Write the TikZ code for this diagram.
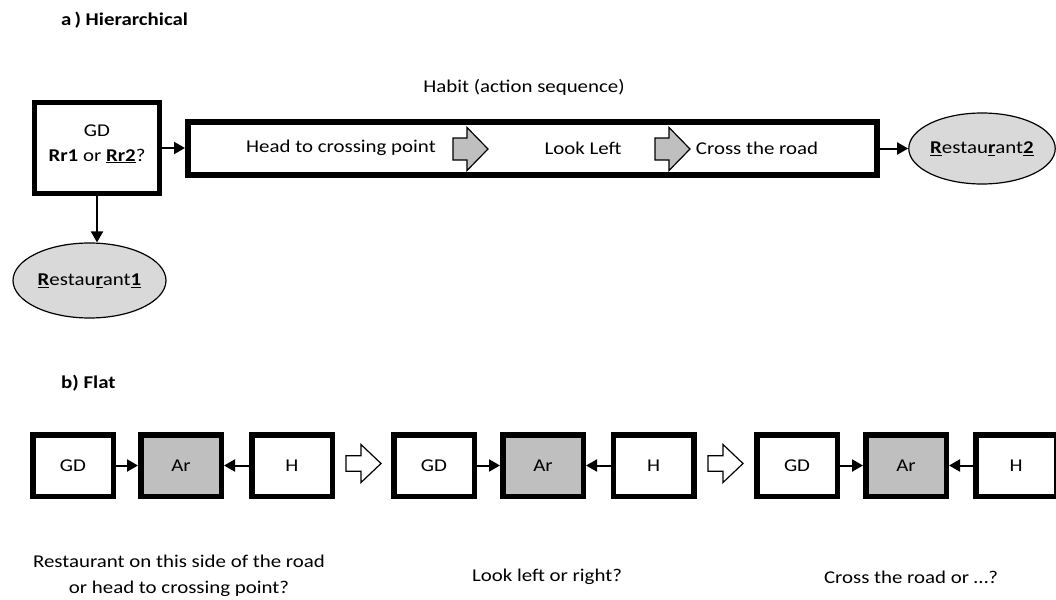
\documentclass[tikz,border=0pt]{standalone}
\usepackage{fontspec}
\setmainfont{Carlito}[FakeStretch=1.16]
\usetikzlibrary{arrows.meta,shapes.geometric}
\definecolor{arfill}{HTML}{BFBFBF}
\definecolor{goalfill}{HTML}{D9D9D9}
\tikzset{
  x=1pt, y=-1pt,
  every node/.style={font=\fontsize{18}{25}\selectfont, inner sep=0pt},
  title/.style={font=\fontsize{18}{22}\selectfont\bfseries, anchor=west},
  thickbox/.style={draw, line width=5.5pt, minimum width=80.5pt, minimum height=61.5pt},
  gdbox/.style={draw, line width=5pt, minimum width=125pt, minimum height=91pt},
  habitbox/.style={draw, line width=6pt, minimum width=689pt, minimum height=53pt},
  goal/.style={draw, ellipse, line width=1.2pt, fill=goalfill},
  conn/.style={line width=2pt, -{Triangle[length=11pt,width=12pt]}},
  blockarrow/.style={draw, line width=1.2pt, line join=miter},
  caption/.style={align=center, font=\fontsize{18}{26}\selectfont},
}
% block arrow: start x, axis y, shaft length, shaft half-height, head half-height, fill
\newcommand\blockarr[6]{%
  \draw[blockarrow, fill=#6] (#1,#2-#4) -- (#1+#3,#2-#4) -- (#1+#3,#2-#5) -- (#1+35,#2)
    -- (#1+#3,#2+#5) -- (#1+#3,#2+#4) -- (#1,#2+#4) -- cycle;}
\begin{document}
\begin{tikzpicture}
\useasboundingbox[fill=white] (0,0) rectangle (1056,599);

% ---------- a) hierarchical ----------
\node[title] (ta) at (61,20) {a\,) Hierarchical};

\node[gdbox] (gd) at (97,148) {};
\node[anchor=base] (gdl1) at (97,136) {GD};
\node[anchor=base] (gdl2) at (97,161) {\textbf{Rr1} or \textbf{\underline{Rr2}}?};
\node[habitbox] (habit) at (532.5,148.5) {};
\node (hlabel) at (524,87) {Habit (action sequence)};
\node (s1) at (341,148) {Head to crossing point};
\node (s2) at (583,148) {Look Left};
\node (s3) at (757,148) {Cross the road};
\blockarr{453}{149}{14}{11}{21.5}{arfill}
\blockarr{655}{149}{14}{11}{21.5}{arfill}

\node[goal, minimum width=153pt, minimum height=75pt] (r1) at (89.5,280.5)
  {\textbf{\underline{R}}estau\textbf{\underline{r}}ant\textbf{\underline{1}}};
\node[goal, minimum width=146pt, minimum height=71pt] (r2) at (982,148.5)
  {\textbf{\underline{R}}estau\textbf{\underline{r}}ant\textbf{\underline{2}}};

\draw[conn] (gd.east) -- (gd.east -| habit.west);
\draw[conn] (gd.south) -- (gd.south |- r1.north);
\draw[conn] (habit.east |- r2.west) -- (r2.west);

% ---------- b) flat ----------
\node[title] (tb) at (61,383) {b) Flat};

\foreach \g/\xg/\xa/\xh in {1/73/181/292, 2/434/543/653.5, 3/797/906/1016} {
  \node[thickbox] (gd\g) at (\xg,465.5) {GD};
  \node[thickbox, fill=arfill] (ar\g) at (\xa,465.5) {Ar};
  \node[thickbox] (h\g) at (\xh,465.5) {H};
  \draw[conn] (gd\g.east) -- (ar\g.west);
  \draw[conn] (h\g.west) -- (ar\g.east);
}
\blockarr{346}{463.5}{15}{7.8}{19}{white}
\blockarr{708}{463.5}{15}{7.8}{19}{white}

\node[caption] (c1) at (179,576) {Restaurant on this side of the road\\or head to crossing point?};
\node[caption] (c2) at (547,577) {Look left or right?};
\node[caption] (c3) at (911,577) {Cross the road or …?};
\end{tikzpicture}
\end{document}
